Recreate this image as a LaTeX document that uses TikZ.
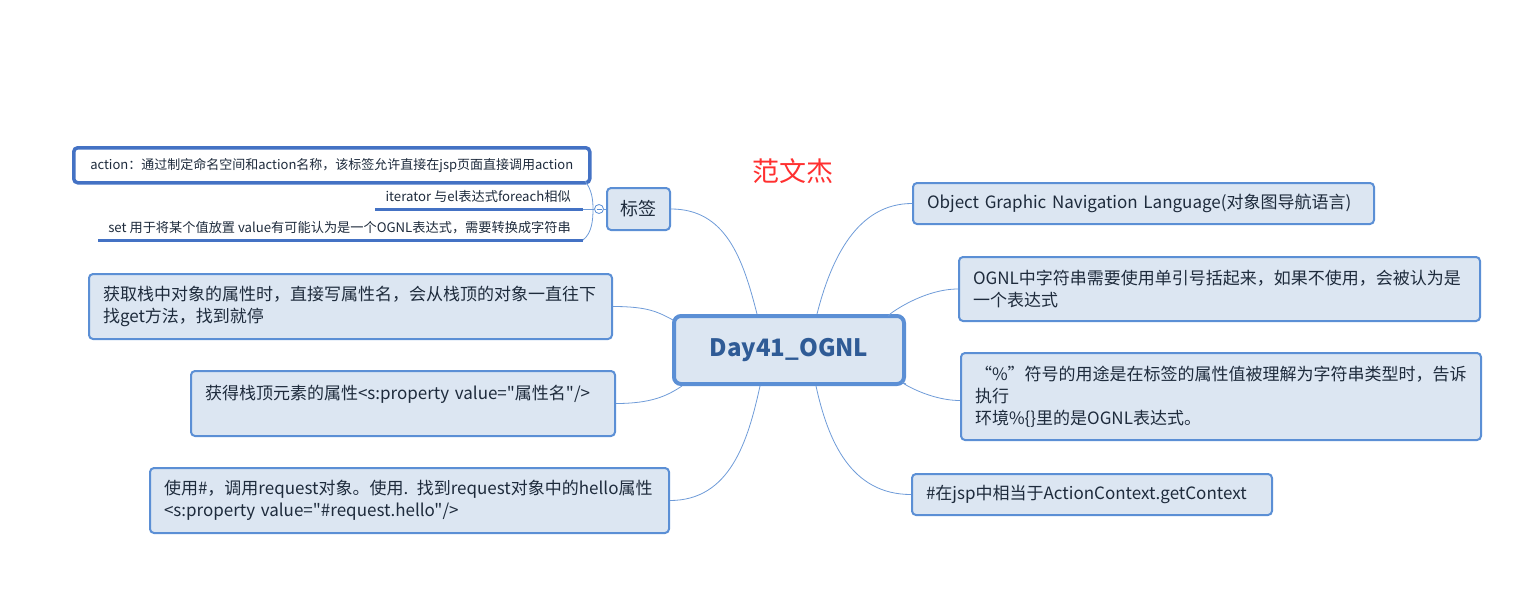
\documentclass[tikz,border=0pt]{standalone}
\usepackage{fontspec}
\setmainfont[Ligatures=TeXOff]{Noto Sans CJK SC}
\usetikzlibrary{calc}
\definecolor{bg}{HTML}{DCE6F2}
\definecolor{bd}{HTML}{5B8FD5}
\definecolor{bdd}{HTML}{4472C4}
\definecolor{tx}{HTML}{1E2B3C}
\definecolor{ctx}{HTML}{2F5B96}
\definecolor{ln}{HTML}{6E9BD8}
\definecolor{rd}{HTML}{FF3030}
\tikzset{
  topic/.style={draw=bd, fill=bg, line width=2pt, rounded corners=4pt, anchor=north west,
    inner xsep=14pt, inner ysep=0pt, align=left, text=tx,
    font=\fontsize{17}{22}\selectfont},
  central/.style={draw=bd, fill=bg, line width=4pt, rounded corners=7pt, anchor=north west,
    minimum width=230pt, minimum height=68pt, inner sep=0pt, text=ctx,
    font=\fontsize{24}{28}\selectfont\bfseries},
  subtx/.style={inner sep=0pt, text=tx, font=\fontsize{13.2}{16}\selectfont},
  uline/.style={draw=bdd, line width=3pt},
  conn/.style={draw=ln, line width=0.8pt}
}
\begin{document}
\begin{tikzpicture}[x=1pt,y=-1pt]
\path[use as bounding box] (0,0) rectangle (1521,592);

% central
\node[central] (c) at (672,314) {Day41\_OGNL};

% right topics
\node[topic, text width=433pt, minimum height=41pt] (obj) at (912,182) {Object Graphic Navigation Language(对象图导航语言)};
\node[topic, text width=493pt, minimum height=64pt] (ognl) at (958,256) {OGNL中字符串需要使用单引号括起来，如果不使用，会被认为是\\一个表达式};
\node[topic, text width=492pt, minimum height=87pt] (pct) at (960,352) {“\%”符号的用途是在标签的属性值被理解为字符串类型时，告诉\\执行\\环境\%\{\}里的是OGNL表达式。};
\node[topic, text width=332pt, minimum height=41pt] (hash) at (911,473) {\#在jsp中相当于ActionContext.getContext};

% left topics
\node[topic, inner xsep=0pt, minimum width=63pt, minimum height=42pt, align=center, font=\fontsize{18}{22}\selectfont] (tag) at (606,187) {标签};
\node[topic, text width=495pt, minimum height=65pt] (get1) at (88,273) {获取栈中对象的属性时，直接写属性名，会从栈顶的对象一直往下\\找get方法，找到就停};
\node[topic, text width=396pt, minimum height=65pt] (get2) at (190,370) {获得栈顶元素的属性<s:property value="属性名"/>\\\mbox{}};
\node[topic, text width=491pt, minimum height=65pt] (get3) at (149,467) {使用\#，调用request对象。使用. 找到request对象中的hello属性\\<s:property value="\#request.hello"/>};

% subtopics of 标签
\node[draw=bdd, fill=white, line width=3.5pt, rounded corners=4pt, anchor=north west,
  minimum width=516pt, minimum height=35pt, inner xsep=15pt, inner ysep=0pt, align=left,
  text=tx, font=\fontsize{13}{16}\selectfont] (act) at (72,146) {action：通过制定命名空间和action名称，该标签允许直接在jsp页面直接调用action};
\node[subtx, anchor=east] (it) at (571,196) {iterator 与el表达式foreach相似};
\node[subtx, anchor=east] (st) at (571,228) {set 用于将某个值放置 value有可能认为是一个OGNL表达式，需要转换成字符串};
\coordinate (itL) at (375,209);
\coordinate (itR) at (583,209);
\coordinate (stL) at (98,240);
\coordinate (stR) at (583,240);
\path[uline] (itL) -- (itR);
\path[uline] (stL) -- (stR);

% bracket and collapse circle
\coordinate (brT) at (585,181);
\coordinate (brM) at (593,209);
\node[draw=bd, fill=white, circle, line width=0.8pt, minimum size=9pt, inner sep=0pt] (col) at (599,209) {};
\draw[bd, line width=0.8pt] ($(col.center)+(-2.5,0)$) -- ($(col.center)+(2.5,0)$);
\path[conn] (brT) .. controls (592,190) and (593,200) .. (brM) .. controls (593,220) and (592,233) .. (stR);
\path[conn] (itR) -- (col.west);
\path[conn] (col.east) -- (tag.west);

% author
\node[text=rd, inner sep=0pt, font=\fontsize{27}{30}\selectfont] (auth) at (793,171) {范文杰};

% connectors from central
\path[conn] (tag.east) .. controls +(55,0) and +(-14,-55) .. ($(c.north west)+(85,0)$);
\path[conn] (obj.west) .. controls +(-55,0) and +(14,-55) .. ($(c.north west)+(145,0)$);
\path[conn] (ognl.west) .. controls +(-40,0) and +(-12,8) .. ($(c.north east)+(-15,0)$);
\path[conn] ($(pct.west)+(0,4)$) .. controls +(-35,0) and +(-15,-8) .. ($(c.south east)+(0,-2)$);
\path[conn] (hash.west) .. controls +(-60,0) and +(12,55) .. ($(c.south west)+(144,0)$);
\path[conn] (get3.east) .. controls +(60,0) and +(-12,55) .. ($(c.south west)+(88,0)$);
\path[conn] (get2.east) .. controls +(35,0) and +(-15,10) .. ($(c.south west)+(10,0)$);
\path[conn] (get1.east) .. controls +(35,0) and +(-15,-8) .. ($(c.north west)+(1,6)$);
\end{tikzpicture}
\end{document}
